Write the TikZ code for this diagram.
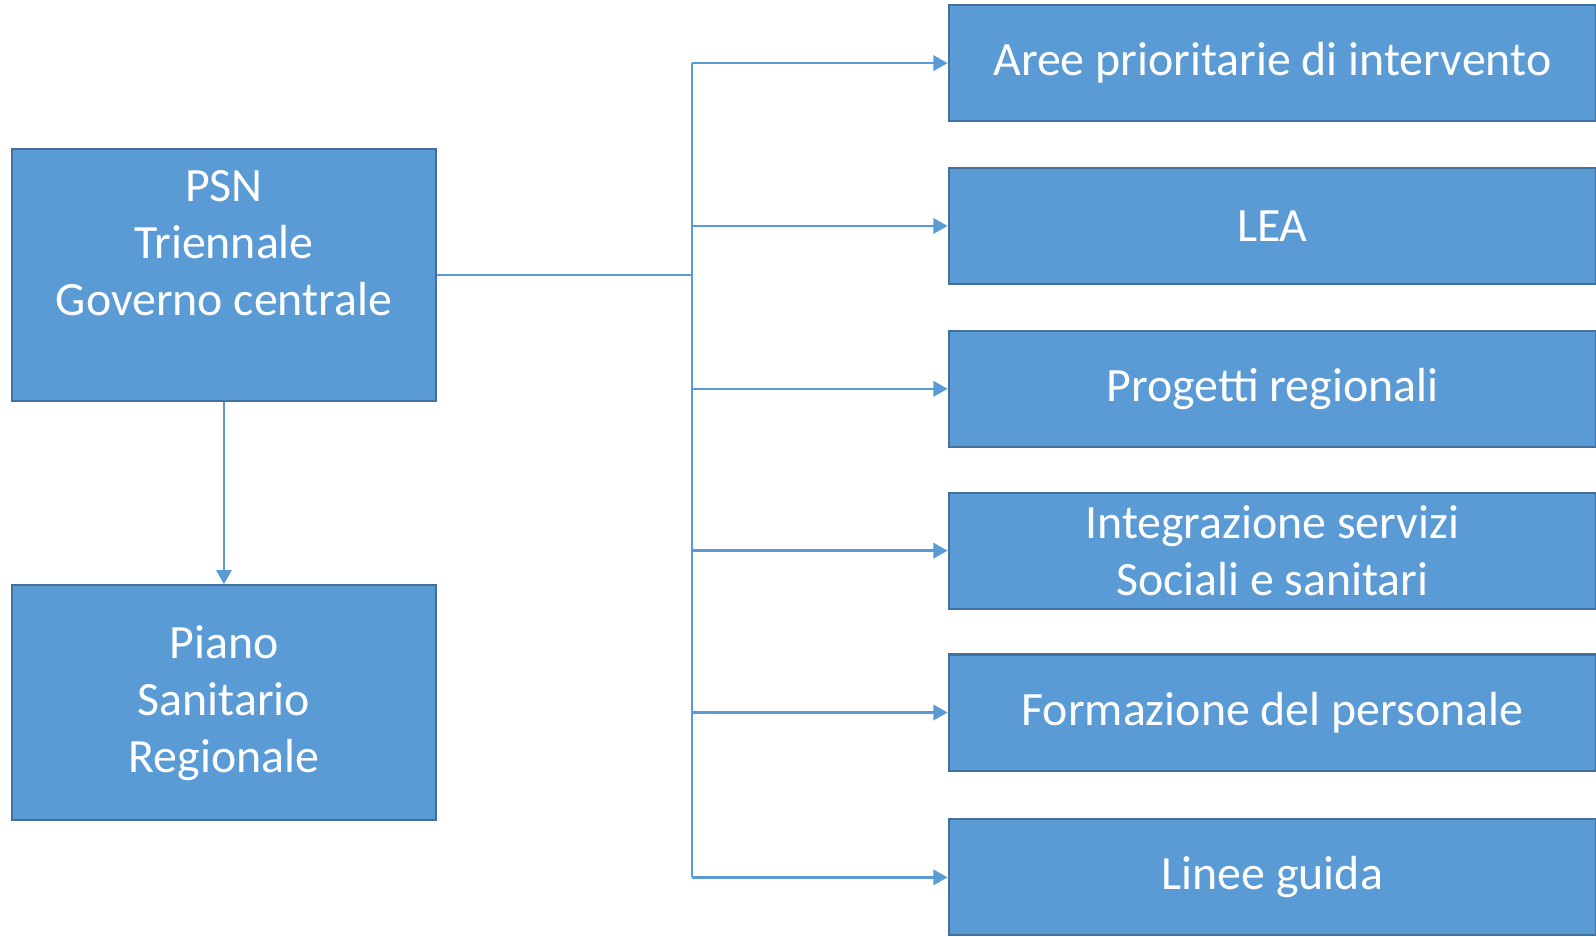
\documentclass[tikz,border=0pt]{standalone}
\usepackage{fontspec}
\setmainfont{Carlito}
\usetikzlibrary{arrows.meta}
\definecolor{boxfill}{HTML}{5B9BD5}
\definecolor{boxline}{HTML}{41719C}
\begin{document}
\begin{tikzpicture}[x=1pt,y=-1pt,
  box/.style={draw=boxline,line width=2pt,fill=boxfill,text=white,align=center,inner sep=0pt,
    font=\fontsize{47}{56}\selectfont},
  conn/.style={draw=boxfill,line width=2.6pt},
  arr/.style={conn,-{Triangle[length=14pt,width=15pt]}}]
\useasboundingbox (0,0) rectangle (1568,920.5);
\node[box,minimum width=416pt,minimum height=248pt] (psn) at (220,270) {PSN\\Triennale\\Governo centrale\\\rule[-6pt]{0pt}{6pt}};
\node[box,minimum width=416pt,minimum height=231pt] (psr) at (220,690.5) {Piano\\Sanitario\\Regionale};
\node[box,minimum width=636pt,minimum height=114pt] (r1) at (1250,62) {Aree prioritarie di intervento};
\node[box,minimum width=636pt,minimum height=114pt] (r2) at (1250,222) {LEA};
\node[box,minimum width=636pt,minimum height=114pt] (r3) at (1250,382) {Progetti regionali};
\node[box,minimum width=636pt,minimum height=114pt] (r4) at (1250,541) {Integrazione servizi\\Sociali e sanitari};
\node[box,minimum width=636pt,minimum height=114pt] (r5) at (1250,700) {Formazione del personale};
\node[box,minimum width=636pt,minimum height=114pt] (r6) at (1250,862) {Linee guida};
\coordinate (j) at (680,270);
\draw[conn] (psn.east) -- (j);
\draw[conn] (680,62) -- (680,862);
\foreach \n in {r1,r2,r3,r4,r5,r6}{
  \draw[arr] (\n.west -| j) -- (\n.west);
}
\draw[arr] (psn.south) -- (psr.north);
\end{tikzpicture}
\end{document}
